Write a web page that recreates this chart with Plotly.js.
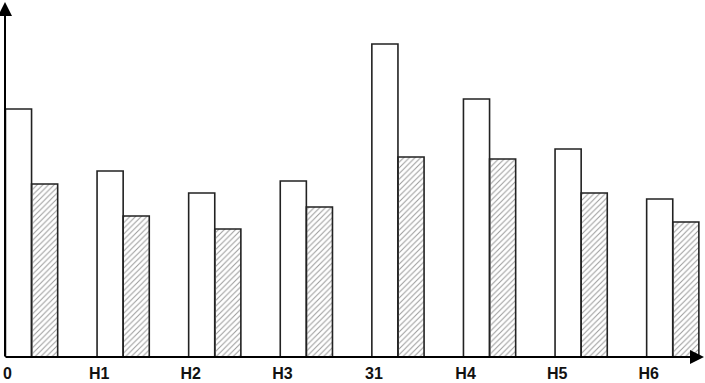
<!DOCTYPE html>
<html>
<head>
<meta charset="utf-8">
<script src="https://cdn.plot.ly/plotly-3.0.1.min.js"></script>
<style>html,body{margin:0;padding:0;background:#fff;}#chart{width:705px;height:383px;}</style>
</head>
<body>
<div id="chart"></div>
<script>
const categories = ["0", "H1", "H2", "H3", "31", "H4", "H5", "H6"];
const whiteValues = [248, 186, 164, 176, 313, 258, 208, 158];
const hatchedValues = [173, 141, 128, 150, 200, 198, 164, 135];

const traces = [
  {
    type: 'bar', x: categories, y: whiteValues, name: 'A',
    marker: {color: '#ffffff', line: {color: '#222222', width: 1.6}},
    hoverinfo: 'skip'
  },
  {
    type: 'bar', x: categories, y: hatchedValues, name: 'B',
    marker: {color: '#e8e8e8', line: {color: '#222222', width: 1.6},
             pattern: {shape: '/', fgcolor: '#9a9a9a', size: 4, solidity: 0.25}},
    hoverinfo: 'skip'
  }
];

const layout = {
  width: 705, height: 383,
  margin: {l: 5, r: 0, t: 2, b: 26, pad: 0},
  paper_bgcolor: '#ffffff', plot_bgcolor: '#ffffff',
  showlegend: false,
  barmode: 'group', bargap: 0.43, bargroupgap: 0,
  xaxis: {
    type: 'category', range: [-0.29, 7.352],
    showgrid: false, zeroline: false, showline: false, ticks: '',
    ticklabelshift: -24, ticklabelstandoff: 5,
    tickfont: {family: 'Liberation Sans Narrow, Arial Narrow, Liberation Sans, Arial', size: 16, weight: 'bold', color: '#111'},
    fixedrange: true
  },
  yaxis: {
    range: [0, 355], showgrid: false, zeroline: false, showline: false,
    showticklabels: false, ticks: '', fixedrange: true
  },
  annotations: [
    {xref: 'paper', yref: 'paper', x: 0, y: 1, ax: 0, ay: 356, text: '',
     showarrow: true, arrowhead: 2, arrowsize: 1.4, arrowwidth: 2, arrowcolor: '#000', standoff: 0},
    {xref: 'paper', yref: 'paper', x: 1, y: 0, ax: -701, ay: 0, text: '',
     showarrow: true, arrowhead: 2, arrowsize: 1.4, arrowwidth: 2, arrowcolor: '#000', standoff: 0}
  ]
};

Plotly.newPlot('chart', traces, layout, {displayModeBar: false, staticPlot: true});
</script>
</body>
</html>
